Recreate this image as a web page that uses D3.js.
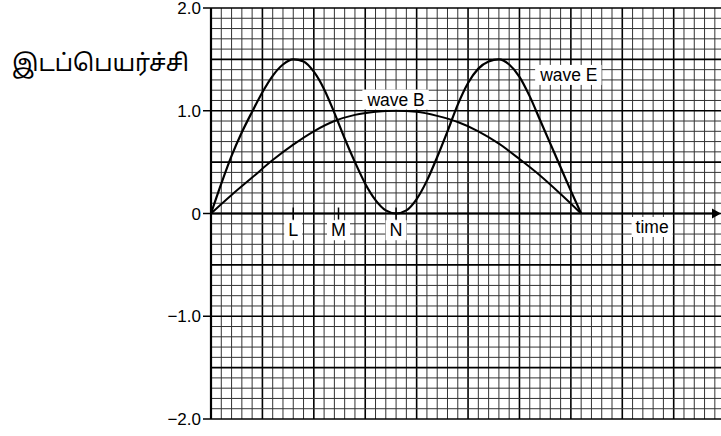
<!DOCTYPE html>
<html><head><meta charset="utf-8">
<script src="https://cdn.jsdelivr.net/npm/d3@7"></script>
<style>body{margin:0;background:#fff}svg{display:block}</style>
</head><body>
<svg id="c" width="721" height="436"></svg>
<script>
// time in grid squares, displacement values
const waveB_t = [0,2,4,6,8,10,12,14,16,18,20,22,24,26,28,30,32,34,36];
const waveB_y = [0,0.18,0.35,0.52,0.67,0.80,0.90,0.96,0.99,1.0,0.99,0.95,0.89,0.80,0.68,0.53,0.37,0.19,0];
const waveE_t = [0,1,2,3,4,5,6,7,8,9,10,11,12,13,14,15,16,17,18,19,20,21,22,23,24,25,26,27,28,29,30,31,32,33,34,35,36];
const waveE_y = [0,0.29,0.56,0.79,0.99,1.18,1.34,1.45,1.50,1.48,1.38,1.21,0.98,0.73,0.50,0.29,0.13,0.03,0,0.03,0.14,0.32,0.55,0.80,1.06,1.27,1.41,1.48,1.50,1.45,1.33,1.14,0.91,0.68,0.45,0.22,0];
const yTicks = [2,1,0,-1,-2];
const yTickLabels = ["2.0","1.0","0","\u22121.0","\u22122.0"];
const markers = [{name:"L",t:8},{name:"M",t:12.4},{name:"N",t:18}];
const seriesLabels = [{name:"wave B",t:18,y:1.11},{name:"wave E",t:34.8,y:1.35}];
const axisLabel = "time";
const yTitle = "இடப்பெயர்ச்சி";

const svg = d3.select("#c");
const x = d3.scaleLinear().domain([0,49.6]).range([211,721]);
const y = d3.scaleLinear().domain([-2,2]).range([419,8]);

// grid: one square per time unit, 0.1 per displacement unit
const g = svg.append("g");
d3.range(0,50).filter(v=>x(v)<=721).forEach(v=>{
  const major = v%5===0;
  g.append("line").attr("x1",x(v)).attr("x2",x(v)).attr("y1",y(2)).attr("y2",y(-2))
   .attr("stroke",major?"#000":"#333").attr("stroke-width",major?1.6:1);
});
d3.range(-20,21).forEach(i=>{
  const v=i/10, major = i%5===0;
  g.append("line").attr("x1",x(0)).attr("x2",721).attr("y1",y(v)).attr("y2",y(v))
   .attr("stroke",major?"#000":"#333").attr("stroke-width",major?1.6:1);
});

// axes
svg.append("line").attr("x1",x(0)).attr("x2",x(0)).attr("y1",y(2)).attr("y2",y(-2)).attr("stroke","#000").attr("stroke-width",2.2);
svg.append("line").attr("x1",x(0)).attr("x2",714).attr("y1",y(0)).attr("y2",y(0)).attr("stroke","#000").attr("stroke-width",2.2);
svg.append("path").attr("d",`M712,${y(0)-5}L721,${y(0)}L712,${y(0)+5}Z`).attr("fill","#000");
yTicks.forEach((v,i)=>{
  svg.append("line").attr("x1",x(0)-8).attr("x2",x(0)).attr("y1",y(v)).attr("y2",y(v)).attr("stroke","#000").attr("stroke-width",1.5);
  svg.append("text").attr("x",x(0)-10).attr("y",y(v)).attr("dy","0.36em").attr("text-anchor","end")
    .attr("font-family","Liberation Sans, Arial, sans-serif").attr("font-size",17).text(yTickLabels[i]);
});

// curves
const line = d3.line().curve(d3.curveMonotoneX);
svg.append("path").attr("d",line(waveB_t.map((t,i)=>[x(t),y(waveB_y[i])]))).attr("fill","none").attr("stroke","#000").attr("stroke-width",2);
svg.append("path").attr("d",line(waveE_t.map((t,i)=>[x(t),y(waveE_y[i])]))).attr("fill","none").attr("stroke","#000").attr("stroke-width",2.2);

// labels with white boxes
function boxed(txt,cx,cy,size){
  const t = svg.append("text").attr("x",cx).attr("y",cy).attr("text-anchor","middle").attr("dy","0.35em")
    .attr("font-family","Liberation Sans, Arial, sans-serif").attr("font-size",size).text(txt);
  const b = t.node().getBBox();
  svg.append("rect").attr("x",b.x-4).attr("y",b.y).attr("width",b.width+8).attr("height",b.height).attr("fill","#fff");
  t.raise();
}
seriesLabels.forEach(s=>boxed(s.name,x(s.t),y(s.y),17.5));
boxed(axisLabel,x(42.9),y(-0.13),17.5);
markers.forEach(m=>{
  svg.append("line").attr("x1",x(m.t)).attr("x2",x(m.t)).attr("y1",y(0)-6).attr("y2",y(0)+6).attr("stroke","#000").attr("stroke-width",1.5);
  boxed(m.name,x(m.t),y(-0.16),18);
});
svg.append("text").attr("x",12).attr("y",71).attr("font-family","Noto Sans Tamil, Noto Sans, sans-serif").attr("font-size",23.5).text(yTitle);
</script>
</body></html>
